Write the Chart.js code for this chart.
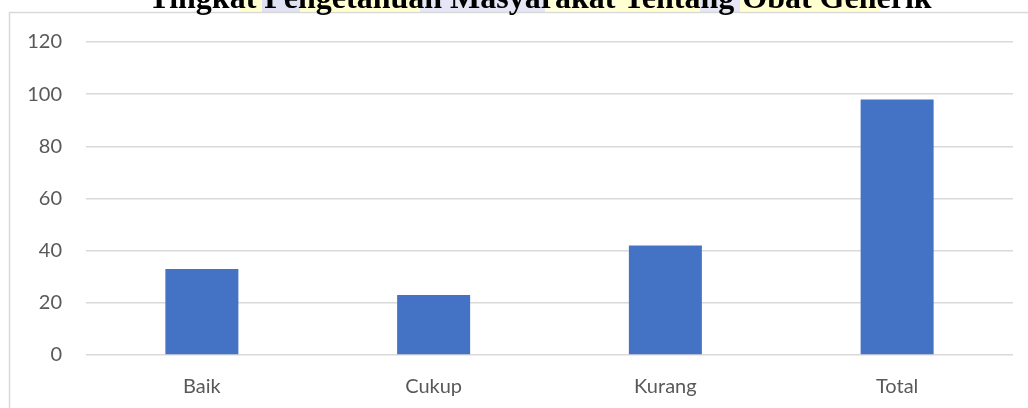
<!DOCTYPE html>
<html>
<head>
<meta charset="utf-8">
<script src="https://cdn.jsdelivr.net/npm/chart.js@4/dist/chart.umd.min.js"></script>
<style>
html,body{margin:0;padding:0;background:#fff;}
#wrap{width:1028px;height:408px;position:relative;}
</style>
</head>
<body>
<div id="wrap"><canvas id="c" width="1028" height="408"></canvas></div>
<script>
const categories = ["Baik", "Cukup", "Kurang", "Total"];
const values = [33, 23, 42, 98];
const titleText = "Tingkat Pengetahuan Masyarakat Tentang Obat Generik";
const highlightSegments = [
  [240, 262, "rgba(255,255,170,0.55)"],
  [262, 300, "rgba(200,200,235,0.55)"],
  [300, 420, "rgba(255,255,170,0.55)"],
  [420, 545, "rgba(200,200,235,0.45)"],
  [545, 620, "rgba(255,255,170,0.45)"],
  [620, 700, "rgba(255,255,170,0.55)"],
  [700, 740, "rgba(200,200,235,0.45)"],
  [740, 880, "rgba(255,255,170,0.55)"]
];

const framePlugin = {
  id: 'frame',
  beforeDraw(chart) {
    const ctx = chart.ctx;
    ctx.save();
    ctx.fillStyle = '#fff';
    ctx.fillRect(0, 0, chart.width, chart.height);
    ctx.strokeStyle = '#d9d9d9';
    ctx.lineWidth = 1.5;
    ctx.strokeRect(9.5, 12.5, 1100, 500);
    highlightSegments.forEach(s => {
      ctx.fillStyle = s[2];
      ctx.fillRect(s[0], 0, s[1] - s[0], 12);
    });
    ctx.fillStyle = '#000';
    ctx.font = 'bold 32px "Liberation Serif", "Times New Roman", serif';
    ctx.textAlign = 'center';
    ctx.textBaseline = 'alphabetic';
    ctx.fillText(titleText, 540, 8);
    ctx.restore();
  }
};

const tickFont = { family: 'Lato, "Open Sans", sans-serif', size: 20 };

new Chart(document.getElementById('c'), {
  type: 'bar',
  data: {
    labels: categories,
    datasets: [{
      data: values,
      backgroundColor: '#4472c4',
      borderWidth: 0,
      categoryPercentage: 1,
      barPercentage: 0.315
    }]
  },
  options: {
    responsive: false,
    animation: false,
    devicePixelRatio: 1,
    layout: { padding: { top: 42, right: 15, bottom: 0, left: 0 } },
    plugins: { legend: { display: false }, tooltip: { enabled: false }, title: { display: false } },
    scales: {
      x: {
        grid: { display: false, drawTicks: false },
        border: { display: false },
        ticks: { color: '#595959', font: tickFont, padding: 20 },
        afterFit(s) { s.height = 53; }
      },
      y: {
        min: 0, max: 120,
        grid: { color: '#d9d9d9', lineWidth: 1.5, drawTicks: false },
        border: { display: false },
        ticks: { stepSize: 20, color: '#595959', font: tickFont, padding: 24 },
        afterFit(s) { s.width = 86; }
      }
    }
  },
  plugins: [framePlugin]
});
</script>
</body>
</html>
